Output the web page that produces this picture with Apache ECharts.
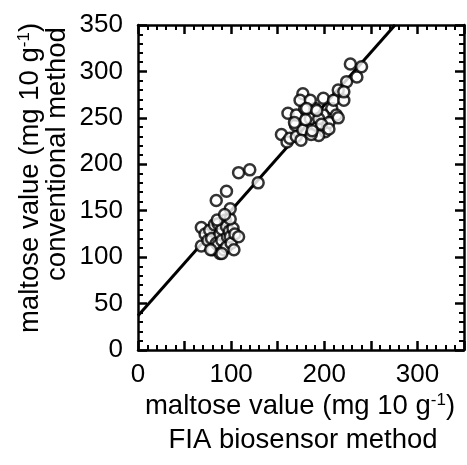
<!DOCTYPE html>
<html><head><meta charset="utf-8">
<script src="https://cdn.jsdelivr.net/npm/echarts@6/dist/echarts.min.js"></script>
<style>html,body{margin:0;padding:0;background:#fff}#c{width:467px;height:465px}</style>
</head><body><div id="c"></div>
<script>
// Low-concentration cluster [FIA biosensor, conventional]
const lowCluster = [
 [68,132],[68,112],[72,125],[75,118],[77,129],[79,120],[80,108],[82,135],[84,115],[86,136],
 [86,113],[88,125],[88,104],[90,130],[90,118],[92,108],[94,140],[95,133],[95,111],[96,122],
 [98,128],[99,122],[100,115],[102,131],[104,125],[108,122],[99,141],[99,152],[84,161],[95,171],
 [90,104],[85,140],[78,108],[93,146],[103,108]
];
const midPoints = [[108,191],[120,194],[129,180]];
const highCluster = [
 [154,232],[160,224],[163,228],[169,242],[170,230],[177,237],[175,226],[192,240],[201,235],[194,231],
 [186,232],[161,255],[170,253],[179,260],[190,260],[208,260],[213,253],[199,253],[185,249],[194,249],
 [177,276],[174,269],[185,269],[199,271],[210,269],[215,280],[221,269],[224,289],[235,294],[228,308],
 [240,305],[181,260],[192,258],[205,245],[215,250],[180,248],[197,243],[187,236],[205,238],[168,245],
 [221,278]
];
const regressionLine = [[0,37],[276,350]];
const xTicks = [0,100,200,300];
const yTicks = [0,50,100,150,200,250,300,350];

const FONT = 'Liberation Sans, Arial, Helvetica, sans-serif';
const chart = echarts.init(document.getElementById('c'), null, {renderer:'canvas'});
function axisStyle(){
  return {
    axisLine:{show:true,onZero:false,lineStyle:{color:'#000',width:2.5}},
    axisTick:{show:true,inside:true,length:9,lineStyle:{color:'#000',width:2.5}},
    minorTick:{show:true,splitNumber:5,length:5,lineStyle:{color:'#000',width:2}},
    splitLine:{show:false}
  };
}
const rich = {t:{fontSize:27.5,fontFamily:FONT,fill:'#000'},
              s:{fontSize:17,fontFamily:FONT,fill:'#000',verticalAlign:'top',padding:[0,0,11,0]}};
chart.setOption({
  animation:false,
  backgroundColor:'#fff',
  grid:{left:138,right:3,top:25,bottom:115,containLabel:false},
  xAxis:[
    Object.assign({type:'value',min:0,max:350,interval:50,position:'bottom',
      axisLabel:{show:true,margin:12,color:'#000',fontSize:26,fontFamily:FONT,
        formatter:v=> xTicks.indexOf(v)>=0 ? String(v) : ''}}, axisStyle()),
    Object.assign({type:'value',min:0,max:350,interval:50,position:'top',
      axisLabel:{show:false}}, axisStyle())
  ],
  yAxis:[
    Object.assign({type:'value',min:0,max:350,interval:50,position:'left',
      axisLabel:{show:true,margin:15,color:'#000',fontSize:26,fontFamily:FONT,
        formatter:v=> yTicks.indexOf(v)>=0 ? String(v) : ''}}, axisStyle()),
    Object.assign({type:'value',min:0,max:350,interval:50,position:'right',
      axisLabel:{show:false}}, axisStyle())
  ],
  graphic:[
    {type:'text',x:300,y:406,style:{text:'{t|maltose value (mg 10 g}{s|-1}{t|)}',
      align:'center',verticalAlign:'middle',fill:'#000',rich:rich}},
    {type:'text',x:303,y:440,style:{text:'FIA biosensor method',align:'center',verticalAlign:'middle',
      fontSize:27.5,fontFamily:FONT,fill:'#000'}},
    {type:'text',x:30,y:178,rotation:Math.PI/2,style:{text:'{t|maltose value (mg 10 g}{s|-1}{t|)}',
      align:'center',verticalAlign:'middle',fill:'#000',rich:rich}},
    {type:'text',x:57,y:154,rotation:Math.PI/2,style:{text:'conventional method',align:'center',verticalAlign:'middle',
      fontSize:27.5,fontFamily:FONT,fill:'#000'}}
  ],
  series:[
    {type:'line',data:regressionLine,symbol:'none',z:2,lineStyle:{color:'#000',width:3},silent:true},
    {type:'scatter',data:lowCluster.concat(midPoints,highCluster),symbol:'circle',symbolSize:11,z:3,
      itemStyle:{color:'#fff',borderColor:'#000',borderWidth:2.5}},
    {type:'line',xAxisIndex:1,yAxisIndex:1,data:[],silent:true}
  ]
});
</script></body></html>
